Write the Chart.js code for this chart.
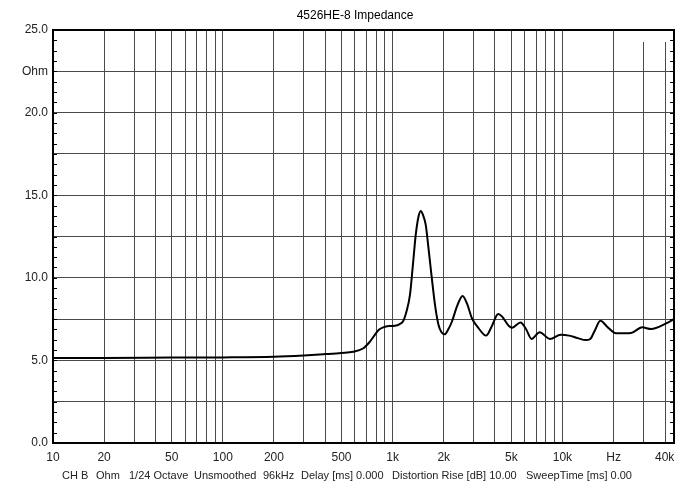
<!DOCTYPE html>
<html>
<head>
<meta charset="utf-8">
<script src="https://cdn.jsdelivr.net/npm/chart.js@4"></script>
<style>
  body { margin: 0; background: #fff; }
</style>
</head>
<body>
<canvas id="impChart" width="700" height="490"></canvas>
<script>
// impedance curve (Hz, Ohm)
const freqs = [10, 20, 50, 100, 200, 300, 400, 500, 585, 669, 730, 786, 830, 881, 950, 1032, 1100, 1157, 1210, 1265,
  1320, 1368, 1420, 1465, 1510, 1567, 1630, 1702, 1780, 1864, 1940, 2023, 2120, 2233, 2400, 2583, 2750, 2931, 3213, 3550,
  3850, 4180, 4416, 4840, 5059, 5665, 6100, 6580, 7340, 8450, 9770, 10960, 12300, 13740, 14520, 15500, 16720, 18500, 20650,
  25350, 29460, 33270, 40800, 45400];
const ohms = [5.15, 5.15, 5.17, 5.18, 5.22, 5.3, 5.38, 5.45, 5.52, 5.72, 6.1, 6.55, 6.85, 7.0, 7.08, 7.1, 7.2, 7.4, 8.0, 8.96,
  10.9, 12.6, 13.7, 14.05, 13.8, 13.2, 11.7, 9.97, 8.3, 7.14, 6.7, 6.58, 6.85, 7.34, 8.3, 8.9, 8.4, 7.55, 6.94, 6.5,
  7.1, 7.81, 7.65, 7.08, 6.98, 7.3, 6.9, 6.3, 6.7, 6.3, 6.56, 6.5, 6.35, 6.23, 6.28, 6.8, 7.4, 7.0, 6.64,
  6.66, 7.0, 6.9, 7.24, 7.5];

const xGrid = [10, 20, 30, 40, 50, 60, 70, 80, 90, 100, 200, 300, 400, 500, 600, 700, 800, 900,
  1000, 2000, 3000, 4000, 5000, 6000, 7000, 8000, 9000, 10000, 20000, 30000, 40000];
const xLabels = {10: "10", 20: "20", 50: "50", 100: "100", 200: "200", 500: "500", 1000: "1k", 2000: "2k",
  5000: "5k", 10000: "10k", 20000: "Hz", 40000: "40k"};
const shortLines = [30000, 40000];
const yLabels = {0: "0.0", 5: "5.0", 10: "10.0", 15: "15.0", 20: "20.0", 22.5: "Ohm", 25: "25.0"};

const titleText = "4526HE-8 Impedance";
// footer fields and their left x positions
const footerParts = ["CH B", "Ohm", "1/24 Octave", "Unsmoothed", "96kHz", "Delay [ms] 0.000",
  "Distortion Rise [dB] 10.00", "SweepTime [ms] 0.00"];
const footerX = [62, 96, 129, 194, 263, 301, 392, 526];

const FONT = "'Liberation Sans', Arial, sans-serif";
const GRID = "#4a4a4a";

const decor = {
  id: "decor",
  beforeDatasetsDraw(chart) {
    const {ctx, chartArea: a, scales: {x}} = chart;
    ctx.save();
    ctx.strokeStyle = GRID;
    ctx.lineWidth = 1;
    shortLines.forEach(f => {
      const px = Math.round(x.getPixelForValue(f)) + 0.5;
      ctx.beginPath();
      ctx.moveTo(px, a.top + 12);
      ctx.lineTo(px, a.bottom);
      ctx.stroke();
    });
    ctx.restore();
  },
  afterDraw(chart) {
    const {ctx, chartArea: a, scales: {y}} = chart;
    ctx.save();
    // minor ticks on both sides
    ctx.strokeStyle = "#000";
    ctx.lineWidth = 1;
    for (let v = 0; v <= 25; v += 0.625) {
      const py = Math.round(y.getPixelForValue(v)) + 0.5;
      ctx.beginPath();
      ctx.moveTo(a.left, py); ctx.lineTo(a.left + 4, py);
      ctx.moveTo(a.right - 4, py); ctx.lineTo(a.right, py);
      ctx.stroke();
    }
    // frame
    ctx.lineWidth = 2;
    ctx.strokeRect(a.left, a.top, a.right - a.left, a.bottom - a.top);
    // title and footer
    ctx.fillStyle = "#000";
    ctx.font = "12px " + FONT;
    ctx.textBaseline = "middle";
    ctx.textAlign = "center";
    ctx.fillText(titleText, 355, 16);
    ctx.fillStyle = "#222";
    ctx.textAlign = "left";
    ctx.font = "11px " + FONT;
    footerParts.forEach((s, i) => ctx.fillText(s, footerX[i], 476));
    ctx.restore();
  }
};

new Chart(document.getElementById("impChart"), {
  type: "line",
  data: {
    datasets: [{
      data: freqs.map((f, i) => ({x: f, y: ohms[i]})),
      borderColor: "#000",
      borderWidth: 2,
      pointRadius: 0,
      cubicInterpolationMode: "monotone",
      fill: false
    }]
  },
  options: {
    responsive: false,
    animation: false,
    devicePixelRatio: 1,
    layout: {padding: {left: 0, right: 26, top: 30, bottom: 27}},
    plugins: {legend: {display: false}, tooltip: {enabled: false}, title: {display: false}},
    scales: {
      x: {
        type: "logarithmic",
        min: 10,
        max: 45400,
        afterBuildTicks(scale) { scale.ticks = xGrid.map(v => ({value: v})); },
        afterFit(scale) { scale.height = 20; },
        grid: {
          color: ctx => shortLines.includes(ctx.tick && ctx.tick.value) ? "rgba(0,0,0,0)" : GRID,
          lineWidth: 1,
          drawTicks: false
        },
        border: {display: false},
        ticks: {
          autoSkip: false,
          maxRotation: 0,
          padding: 7,
          color: "#222",
          font: {family: FONT, size: 12},
          callback: v => xLabels[v] || ""
        }
      },
      y: {
        min: 0,
        max: 25,
        afterBuildTicks(scale) {
          const t = [];
          for (let v = 0; v <= 25; v += 2.5) t.push({value: v});
          scale.ticks = t;
        },
        afterFit(scale) { scale.width = 53; },
        grid: {color: GRID, lineWidth: 1, drawTicks: false},
        border: {display: false},
        ticks: {
          padding: 5,
          color: "#222",
          font: {family: FONT, size: 12},
          callback: v => yLabels[v] || ""
        }
      }
    }
  },
  plugins: [decor]
});
</script>
</body>
</html>
